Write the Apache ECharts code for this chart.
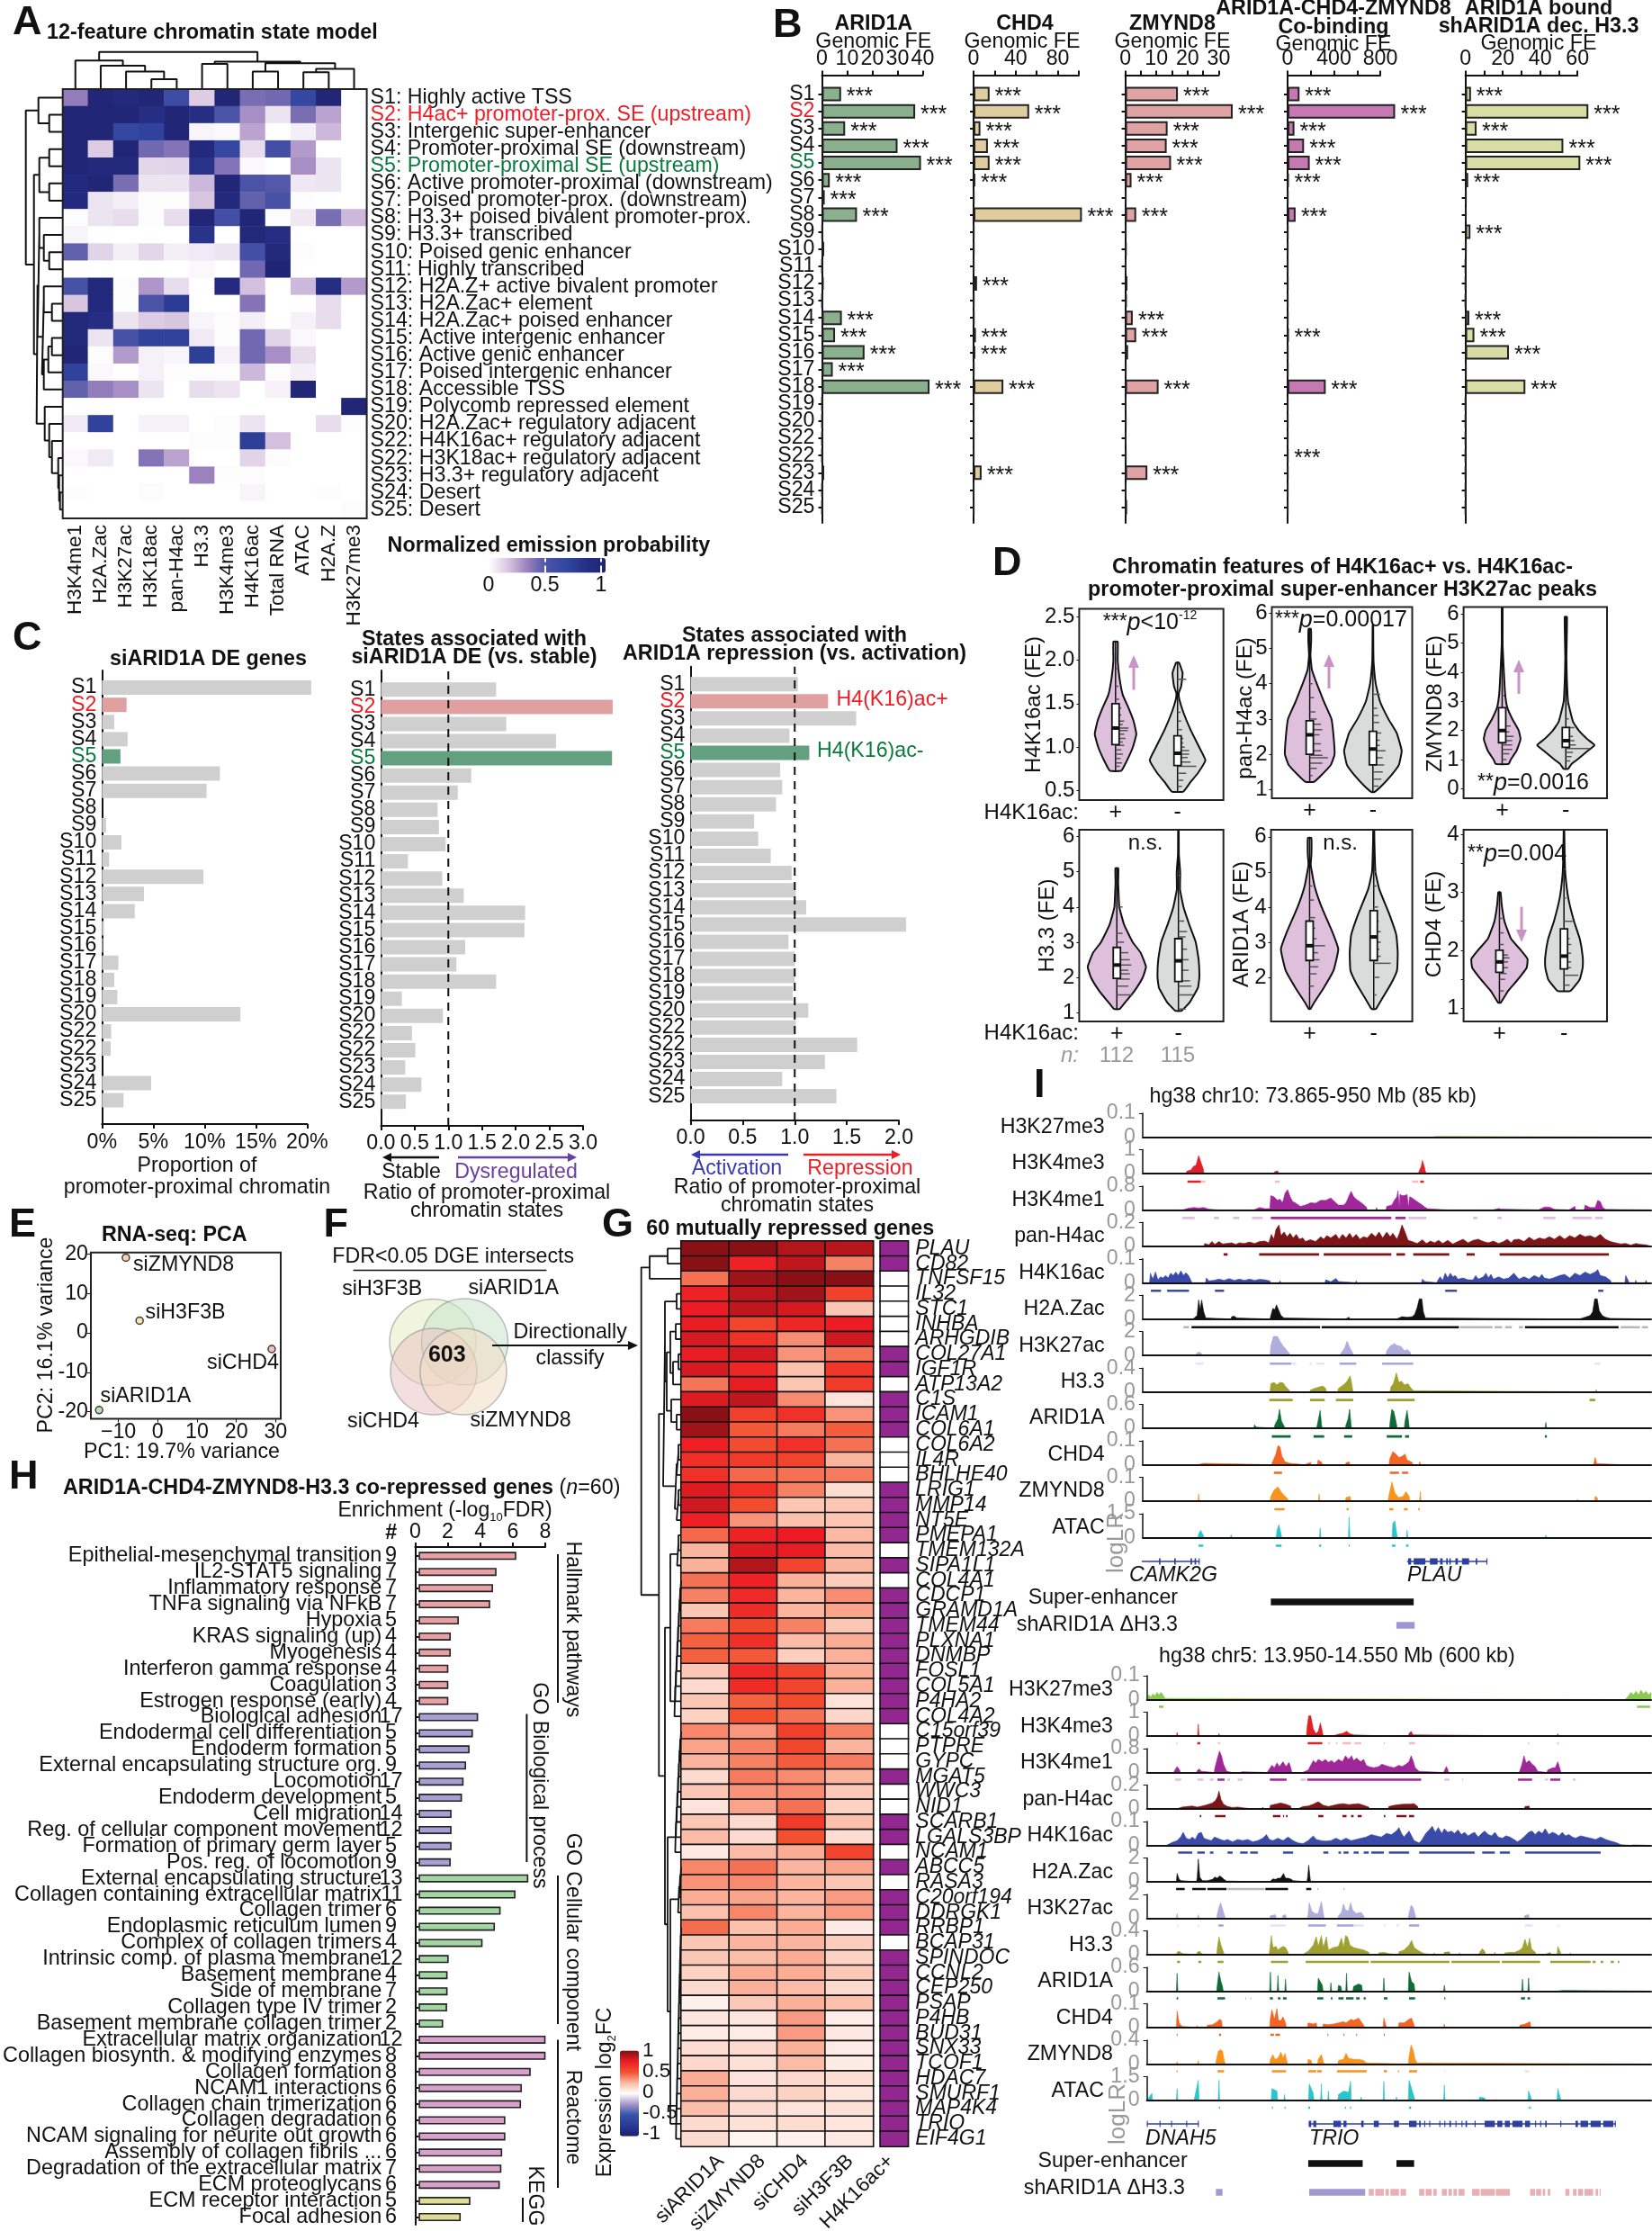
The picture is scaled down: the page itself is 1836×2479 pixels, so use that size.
<!DOCTYPE html>
<html><head><meta charset="utf-8">
<style>html,body{margin:0;background:#fff}#c{width:1836px;height:2479px}</style>
<script src="https://cdn.jsdelivr.net/npm/echarts@6/dist/echarts.min.js"></script>
</head><body><div id="c"></div>
<script>
/* ---------- DATA ---------- */
const stateIds=['S1','S2','S3','S4','S5','S6','S7','S8','S9','S10','S11','S12','S13','S14','S15','S16','S17','S18','S19','S20','S22','S22','S23','S24','S25'];
const stateNames=['S1: Highly active TSS','S2: H4ac+ promoter-prox. SE (upstream)','S3: Intergenic super-enhancer','S4: Promoter-proximal SE (downstream)','S5: Promoter-proximal SE (upstream)','S6: Active promoter-proximal (downstream)','S7: Poised promoter-prox. (downstream)','S8: H3.3+ poised bivalent promoter-prox.','S9: H3.3+ transcribed','S10: Poised genic enhancer','S11: Highly transcribed','S12: H2A.Z+ active bivalent promoter','S13: H2A.Zac+ element','S14: H2A.Zac+ poised enhancer','S15: Active intergenic enhancer','S16: Active genic enhancer','S17: Poised intergenic enhancer','S18: Accessible TSS','S19: Polycomb repressed element','S20: H2A.Zac+ regulatory adjacent','S22: H4K16ac+ regulatory adjacent','S22: H3K18ac+ regulatory adjacent','S23: H3.3+ regulatory adjacent','S24: Desert','S25: Desert'];
const marks=['H3K4me1','H2A.Zac','H3K27ac','H3K18ac','pan-H4ac','H3.3','H3K4me3','H4K16ac','Total RNA','ATAC','H2A.Z','H3K27me3'];
const emission=[
[.35,.95,.9,.95,.6,.15,.95,.4,.42,.65,.95,0],
[.95,.95,.95,.85,.95,.85,.5,.3,.08,.4,.25,0],
[.95,.95,.65,.7,.95,.03,.02,.25,0,.05,.2,0],
[.95,.15,.95,.42,.38,.9,.65,.1,.55,.27,0,0],
[.95,.9,.92,.12,.13,.8,.38,.02,0,.3,.08,0],
[.9,.95,.4,.08,.08,.2,.95,.5,.48,.07,.08,0],
[.9,.08,.05,.01,.01,.17,.9,.45,.52,.01,0,0],
[.01,.08,.1,.01,.1,.95,.55,.95,.01,.07,.4,.2],
[.03,0,0,0,0,.8,0,.92,.85,0,0,0],
[.45,.13,.05,.12,.05,.06,.08,.55,.92,.01,0,0],
[0,0,0,0,0,.02,0,.42,.97,0,0,0],
[.52,.92,.01,.28,.1,0,.88,.18,0,.2,.85,.27],
[.17,.9,.01,.5,.75,0,0,.38,0,0,.1,0],
[.92,.85,.08,.15,.17,.03,.01,.05,0,.04,.1,0],
[.92,.08,.52,.7,.7,.06,.01,.42,.13,.02,0,0],
[.95,.01,.27,.04,.03,.72,.04,.42,.3,.1,0,0],
[.7,.02,0,.04,.01,.01,.01,.2,.01,.05,0,0],
[.45,.35,.3,.08,0,.1,.08,0,.04,.95,0,0],
[0,0,0,0,0,0,0,0,0,0,0,.95],
[.06,.7,0,.04,.04,0,.01,.08,0,0,.1,.01],
[0,0,0,0,0,.01,.01,.72,.18,0,0,0],
[.02,.06,0,.38,.25,0,0,.13,.01,0,0,0],
[0,0,0,0,0,.33,.01,.01,0,0,0,0],
[.005,0,0,.01,0,0,0,.03,0,0,.005,0],
[0,0,0,0,0,0,0,0,0,0,0,.01]];

const feArid1a=[7.6,37,9.2,30,39.3,3.1,1.1,13.9,.2,.9,.1,.7,.1,7.9,5.2,16.9,4.3,42.7,.1,.1,.1,.1,.9,.1,.1];
const feChd4=[15.2,52.8,6.5,13.6,15.2,1.6,.3,102.9,.3,.3,.2,3.3,.3,.4,2.2,1.6,.3,28.3,.2,.2,.2,.2,7.6,.1,.2];
const feZmynd8=[16.9,34.5,13.6,13.3,14.7,2,.3,3.5,.3,.4,.2,.7,.5,2.4,3.5,.9,.3,10.7,.2,.3,.2,.3,7.1,.2,.6];
const feCobind=[103,928,59,142,191,8,3,69,3,2,2,3,2,3,8,3,3,329,2,2,2,3,3,2,2];
const feShArid=[3,65.8,6,52.4,61.5,1.5,.5,.4,2.7,.5,.1,.1,.1,2.1,4.8,23.3,.5,32.1,.1,.1,.1,.1,.1,.1,.1];
const sigArid1a=[0,1,2,3,4,5,6,7,13,14,15,16,17];
const sigChd4=[0,1,2,3,4,5,7,11,14,15,17,22];
const sigZmynd8=[0,1,2,3,4,5,7,13,14,17,22];
const sigCobind=[0,1,2,3,4,5,7,14,17,21];
const sigShArid=[0,1,2,3,4,5,8,13,14,15,17];

const propDE=[20.4,2.4,1.2,2.5,1.8,11.5,10.2,0,.4,1.9,.7,9.9,4.1,3.2,.2,.1,1.6,1.2,1.5,13.5,.9,.85,0,4.8,2.1];
const ratioDE=[1.71,3.44,1.86,2.6,3.43,1.34,1.14,.84,.86,.96,.4,.91,1.23,2.14,2.13,1.25,1.12,1.71,.31,.92,.46,.51,.36,.6,.37];
const ratioRep=[1.03,1.32,1.59,.95,1.14,.86,.88,.82,.61,.65,.77,.97,1.01,1.11,2.07,.94,1,1,.98,1.13,1.01,1.6,1.29,.88,1.4];

const violinPanels=[
{title:'H4K16ac (FE)',ticks:[.5,1,1.5,2,2.5],fmt:v=>v.toFixed(1),vio:[
 {cx:25.2,fill:'#dfc0dc',out:[[.73,4],[.85,8],[1,12],[1.15,14.4],[1.3,12.5],[1.45,9],[1.6,5],[1.8,2.7],[2,1.5],[2.21,1.5]],box:[1.03,1.22,1.5],rug:[[.78,3],[.82,4.5],[.87,3.5],[.92,5],[.97,4],[1.02,6],[1.06,5],[1.1,7],[1.15,6],[1.19,8.5],[1.22,9],[1.26,5],[1.3,6],[1.37,4],[1.45,4],[1.55,2.5],[1.7,2],[1.9,2],[2.1,1.5]]},
 {cx:68.2,fill:'#d9dcda',out:[[.49,4],[.6,9],[.7,14],[.85,19.3],[1,15],[1.2,9],[1.4,4],[1.55,1.2],[1.62,.8],[1.7,2.5],[1.85,3.5],[1.97,1]],box:[.79,.93,1.13],rug:[[.55,3],[.62,4],[.7,6],[.78,13],[.83,9],[.88,7],[.92,8],[.96,8],[1,5],[1.05,4],[1.1,4],[1.2,3],[1.3,2.5],[1.4,2],[1.78,6]]}]},
{title:'pan-H4ac (FE)',ticks:[1,2,3,4,5,6],fmt:v=>v,vio:[
 {cx:27,fill:'#dfc0dc',out:[[1.22,3],[1.4,8],[1.7,15],[2,17.7],[2.5,17],[3,15.5],[3.5,10],[4,5],[4.4,1.5],[4.8,.5],[5.2,1],[5.55,.8]],box:[2,2.55,2.95],rug:[[1.4,2],[1.6,5],[1.75,9],[1.9,13],[1.97,9],[2.1,8],[2.3,8],[2.55,7],[2.7,9],[2.85,8],[3,5],[3.2,4],[3.6,3],[4,2]]},
 {cx:72,fill:'#d9dcda',out:[[.93,1],[1.1,6],[1.4,13],[1.7,18.5],[2.1,20.5],[2.6,17],[3,11],[3.5,5],[4,2],[4.6,.5],[5,.3],[5.65,.2]],box:[1.7,2.15,2.65],rug:[[1.1,4],[1.3,6],[1.5,7],[1.7,8],[1.9,7],[2.1,9],[2.25,5],[2.4,5],[2.6,6],[2.9,4.5],[3.1,4],[3.3,3],[3.7,5]]}]},
{title:'ZMYND8 (FE)',ticks:[0,1,2,3,4,5,6],fmt:v=>v,vio:[
 {cx:26.9,fill:'#dfc0dc',out:[[.85,4.5],[1,6],[1.3,10],[1.7,12.8],[2,11.5],[2.4,7],[2.8,3.5],[3.3,2],[4.2,1],[5,.3],[6.3,.3]],box:[1.58,2,2.78],rug:[[1,3],[1.2,5],[1.35,7],[1.5,7],[1.65,7],[1.8,8],[1.95,5],[2.15,6],[2.4,3],[2.7,2],[3.2,1.5]]},
 {cx:71.3,fill:'#d9dcda',out:[[.68,1.5],[.85,4],[1,8],[1.25,14],[1.5,20],[1.7,15],[2,9],[2.3,5],[3,1.5],[3.8,.7],[4.5,.4],[5.9,.8]],box:[1.42,1.65,2.1],rug:[[.95,3],[1.1,4],[1.25,5],[1.38,17],[1.5,7],[1.65,6],[1.8,5],[2.1,6],[2.4,2],[2.9,1.5]]}]},
{title:'H3.3 (FE)',ticks:[1,2,3,4,5,6],fmt:v=>v,vio:[
 {cx:26.1,fill:'#dfc0dc',out:[[1.1,2],[1.3,6],[1.6,12],[2,18],[2.3,20.2],[2.7,16.5],[3,11],[3.5,5],[4,1.7],[4.4,1.2],[4.7,.9],[5.1,1]],box:[1.97,2.35,2.85],rug:[[1.5,11],[1.75,8],[1.95,9],[2.1,9],[2.2,8],[2.35,10],[2.5,9],[2.7,8],[3,5],[3.25,4],[4,4]]},
 {cx:68.8,fill:'#d9dcda',out:[[1.05,2.2],[1.3,8],[1.7,13.5],[2,14.5],[2.5,14],[3,12],[3.5,7.5],[4,3.5],[4.5,1.1],[5,1.2],[5.5,.3],[6.2,.2]],box:[1.88,2.47,3.1],rug:[[1.1,5],[1.5,10],[1.75,9],[1.9,8],[2.2,7],[2.5,7],[2.8,6],[3.15,5],[3.3,6],[3.6,4],[4.9,2]]}]},
{title:'ARID1A (FE)',ticks:[2,3,4,5,6],fmt:v=>v,vio:[
 {cx:27.3,fill:'#dfc0dc',out:[[1.1,.6],[1.3,3.5],[1.7,10],[2.2,17],[2.8,20.3],[3.3,16],[4,8.5],[4.6,3.5],[5.2,.8],[5.5,1.3],[5.97,1.2]],box:[2.48,2.9,3.6],rug:[[1.75,3],[2.1,5],[2.3,6],[2.5,7],[2.7,6],[2.9,11],[3.1,5],[3.4,4],[3.7,4],[4.2,3],[4.6,2]]},
 {cx:72.7,fill:'#d9dcda',out:[[1.1,1.5],[1.4,6],[1.8,12],[2.2,16.5],[2.7,17],[3.2,16],[3.8,11],[4.5,4],[5,1.2],[5.8,.5],[6.3,.3]],box:[2.48,3.15,3.9],rug:[[1.5,2],[2,4],[2.4,12],[2.6,5],[2.8,4],[3,5],[3.3,5],[3.6,3.5],[4,3],[4.6,2],[5,1.5]]}]},
{title:'CHD4 (FE)',ticks:[1,2,3,4],fmt:v=>v,minor:[1,1.5,2,2.5,3,3.5,4],vio:[
 {cx:25,fill:'#dfc0dc',out:[[1.1,1],[1.3,6],[1.5,13],[1.7,19],[1.85,19.6],[2,15],[2.2,8],[2.5,3.5],[2.8,1.5],[3,.8]],box:[1.62,1.8,2],rug:[[1.3,3],[1.5,4],[1.6,5],[1.7,6],[1.8,6],[1.87,7],[1.92,6],[2.1,3],[2.3,3],[2.55,2]]},
 {cx:70,fill:'#d9dcda',out:[[1.3,4.5],[1.5,11],[1.7,13],[1.9,13],[2.2,11],[2.5,7],[2.9,3],[3.3,1],[3.6,.5],[4.07,.2]],box:[1.68,1.9,2.37],rug:[[1.4,4],[1.57,10],[1.7,5],[1.8,5],[1.95,5],[2.1,5],[2.2,4],[2.5,6],[2.9,1.5],[3.4,1]]}]}
];

const pcaNames=['siZMYND8','siH3F3B','siCHD4','siARID1A'];
const pcaPoints=[[-8.1,19.1],[-4.6,3.1],[29,-4.1],[-14.9,-19.6]];
const vennSets=['siH3F3B','siARID1A','siCHD4','siZMYND8'];

const genes=['PLAU','CD82','TNFSF15','IL32','STC1','INHBA','ARHGDIB','COL27A1','IGF1R','ATP13A2','C1S','ICAM1','COL6A1','COL6A2','IL4R','BHLHE40','LRIG1','MMP14','NT5E','PMEPA1','TMEM132A','SIPA1L1','COL4A1','CDCP1','GRAMD1A','TMEM44','PLXNA1','DNMBP','FOSL1','COL5A1','P4HA2','COL4A2','C15orf39','PTPRE','GYPC','MGAT5','WWC3','NID1','SCARB1','LGALS3BP','NCAM1','ABCC5','RASA3','C20orf194','DDRGK1','RRBP1','BCAP31','SPINDOC','CCNL2','CEP250','PSAP','P4HB','BUD31','SNX33','TCOF1','HDAC7','SMURF1','MAP4K4','TRIO','EIF4G1'];
const knockdowns=['siARID1A','siZMYND8','siCHD4','siH3F3B'];
const geneFC=[[.97,.97,.88,.87],[.97,.72,.85,.38],[.42,.92,.97,.97],[.72,.85,.92,.57],[.75,.85,.8,.2],[.76,.55,.7,.75],[.8,.65,.35,.82],[.76,.8,.34,.42],[.8,.7,.22,.62],[.41,.76,.2,.6],[.78,.85,.36,.1],[.97,.58,.65,.34],[.92,.48,.4,.47],[.74,.52,.65,.42],[.66,.6,.56,.26],[.65,.44,.42,.4],[.78,.65,.38,.12],[.82,.52,.2,.2],[.73,.34,.22,.2],[.44,.72,.75,.25],[.26,.78,.76,.24],[.27,.88,.55,.26],[.42,.72,.27,.18],[.38,.68,.26,.35],[.2,.68,.26,.3],[.4,.54,.38,.2],[.46,.66,.24,.28],[.46,.48,.17,.27],[.2,.68,.55,.28],[.13,.68,.56,.27],[.2,.46,.52,.1],[.16,.5,.42,.14],[.37,.33,.58,.38],[.3,.38,.54,.26],[.26,.38,.47,.4],[.13,.4,.36,.26],[.2,.34,.36,.19],[.1,.3,.42,.16],[.2,.13,.6,.22],[.24,.13,.5,.12],[.08,.24,.28,.55],[.37,.42,.26,.3],[.34,.36,.26,.2],[.28,.3,.26,.32],[.22,.37,.26,.32],[.43,.22,.28,.07],[.2,.26,.26,.18],[.2,.23,.28,.16],[.16,.28,.28,.19],[.13,.27,.24,.13],[.05,.19,.27,.22],[.09,.09,.32,.06],[.07,.07,.32,.08],[.12,.13,.27,.07],[.14,.11,.24,.07],[.28,.1,.14,.12],[.27,.13,.16,.09],[.23,.13,.1,.11],[.13,.11,.12,.09],[.13,.04,.05,.08]];
const h4k16Flag=[1,1,0,0,0,0,0,1,1,0,1,1,1,0,0,0,1,1,1,1,0,1,0,1,1,1,1,1,1,1,1,1,0,0,0,1,0,0,1,1,0,1,0,1,1,1,0,1,1,1,1,1,1,1,1,1,1,1,1,1];

const terms=['Epithelial-mesenchymal transition','IL2-STAT5 signaling','Inflammatory response','TNFa signaling via NFkB','Hypoxia','KRAS signaling (up)','Myogenesis','Interferon gamma response','Coagulation','Estrogen response (early)','Biological adhesion','Endodermal cell differentiation','Endoderm formation','External encapsulating structure org.','Locomotion','Endoderm development','Cell migration','Reg. of cellular component movement','Formation of primary germ layer','Pos. reg. of locomotion','External encapsulating structure','Collagen containing extracellular matrix','Collagen trimer','Endoplasmic reticulum lumen','Complex of collagen trimers','Intrinsic comp. of plasma membrane','Basement membrane','Side of membrane','Collagen type IV trimer','Basement membrane collagen trimer','Extracellular matrix organization','Collagen biosynth. & modifying enzymes','Collagen formation','NCAM1 interactions','Collagen chain trimerization','Collagen degradation','NCAM signaling for neurite out growth','Assembly of collagen fibrils ...','Degradation of the extracellular matrix','ECM proteoglycans','ECM receptor interaction','Focal adhesion'];
const termCounts=[9,7,7,7,5,4,4,4,3,4,17,5,5,9,17,5,14,12,5,9,13,11,6,9,4,12,4,7,2,2,12,8,8,6,6,6,6,6,7,6,5,6];
const termFDR=[6.17,4.92,4.7,4.52,2.54,2.03,2.03,1.88,1.88,1.88,3.76,3.43,3.22,3,2.84,2.74,2.08,2.08,2.08,2.03,6.93,6.12,5.18,4.82,4.04,1.9,1.83,1.83,1.8,1.55,8.02,8.02,7.08,6.52,6.47,5.48,5.48,5.28,5.23,5.13,3.27,2.66];

const trackNames=['H3K27me3','H3K4me3','H3K4me1','pan-H4ac','H4K16ac','H2A.Zac','H3K27ac','H3.3','ARID1A','CHD4','ZMYND8','ATAC'];
const locusAMax=['0.1','1','0.8','0.2','0.1','2','2','0.4','0.6','0.1','0.1','1.5'];
const locusBMax=['0.1','1','0.8','0.2','0.1','2','2','0.4','0.6','0.1','0.4','1.5'];

const a_k27me3=[[57,.02],[57.8,.03]];
const a_me3=[[8.7,.1],[9.5,.15],[10,.3],[10.5,.35],[11,.75],[11.4,.5],[11.9,.2],[26,.08],[26.6,.1],[54.4,.12],[54.8,.3],[55,.55],[55.3,.35],[55.6,.1]];
const a_me1=[[8,.03],[9,.07],[10,.1],[11,.08],[12,.1],[13,.03],[15,.02],[20,.03],[22,.05],[23,.1],[24,.05],[25,.05],[25.2,.6],[25.8,.55],[26.5,.4],[27,.45],[27.5,.3],[28,.7],[28.5,.85],[29,.55],[29.5,.35],[30,.3],[31,.15],[32,.2],[33,.3],[34,.28],[35,.4],[36,.4],[37,.5],[38,.3],[38.5,.2],[39.5,.2],[40,.3],[40.5,.55],[41,.78],[41.5,.55],[42,.45],[43,.3],[44,.12],[46,.1],[48,.15],[49,.2],[49.5,.4],[50,.55],[50.2,.8],[50.5,.1],[50.6,.65],[51,.6],[51.5,.6],[52,.65],[52.3,.1],[52.5,.55],[53,.5],[54,.35],[55,.2],[55.5,.12],[56,.05],[60,.02],[69,.03],[70,.06],[70.5,.03],[78,.02],[79,.12],[80,.12],[81,.02],[84,.05],[85,.15],[87,.2],[88,.1],[89,.1],[89.5,.4],[90,.35],[90.5,.1],[91,.02]];
const a_pan=[[1,.02],[3,.05],[5,.03],[7,.06],[9,.05],[11,.06],[12.2,.12],[13,.06],[13.6,.2],[14.2,.08],[15,.2],[15.7,.1],[16.5,.12],[17.5,.15],[18.3,.08],[19,.15],[20,.12],[21,.18],[22,.12],[23,.2],[24,.22],[24.8,.15],[25.3,.5],[25.8,.3],[26.2,.7],[26.8,.9],[27.2,.45],[27.8,.6],[28.4,.4],[29,.55],[29.6,.35],[30.2,.5],[30.8,.3],[31.5,.35],[32,.2],[33,.28],[34,.2],[35,.4],[35.6,.3],[36.2,.45],[37,.35],[38,.5],[38.6,.3],[39.3,.5],[40,.35],[40.7,.55],[41.3,.35],[42,.5],[42.7,.3],[43.4,.4],[44.2,.35],[45,.55],[45.8,.4],[46.5,.6],[47.2,.35],[48,.6],[48.7,.4],[49.2,.55],[50,.3],[50.5,.55],[51,.9],[51.6,.6],[52.2,.25],[53,.2],[54,.12],[55,.28],[55.8,.12],[56.6,.22],[57.4,.15],[58.2,.25],[59,.12],[60,.25],[61,.1],[62,.2],[63,.3],[64,.15],[65,.25],[66,.3],[67,.2],[68,.15],[69,.22],[70,.12],[71,.2],[71.7,.3],[72.5,.15],[73,.28],[74,.3],[75,.2],[76,.38],[77,.25],[78,.35],[79,.3],[80,.4],[81,.3],[82,.45],[83,.3],[84,.45],[85,.35],[86,.5],[87,.4],[88,.45],[89,.35],[90,.5],[91,.3],[92,.2],[93,.15],[94,.1],[95,.12],[96,.05],[97,.12],[98,.08],[99,.06]];
const a_k16=[[1.5,.4],[2,.15],[2.5,.45],[3,.12],[3.5,.25],[4,.2],[4.5,.3],[5,.2],[5.5,.4],[6,.3],[6.5,.45],[7,.3],[7.5,.5],[8,.3],[8.5,.42],[9,.3],[9.5,.1],[12.5,.2],[13,.08],[14,.1],[15,.15],[16,.1],[17,.17],[18,.1],[19,.15],[20,.1],[21,.15],[22,.1],[23,.14],[24,.12],[25,.08],[27,.08],[29,.05],[31,.06],[34,.05],[36,.12],[37,.04],[38,.18],[38.5,.05],[42,.08],[44,.05],[47,.04],[52,.05],[55,.15],[55.5,.05],[58,.08],[58.5,.25],[59,.1],[59.5,.4],[60,.2],[60.5,.4],[61,.25],[61.5,.3],[62,.15],[63,.2],[64,.12],[65,.12],[65.5,.3],[66,.15],[67,.25],[67.5,.4],[68,.2],[68.5,.35],[69,.15],[70,.25],[71,.15],[72,.2],[73,.4],[74,.15],[75,.25],[76,.15],[77,.3],[78,.2],[78.5,.35],[79,.2],[80,.15],[81,.22],[82,.3],[83,.35],[84,.2],[85,.4],[86,.3],[87,.45],[88,.35],[89,.45],[89.5,.55],[90,.3],[91,.25],[92,.1],[95,.3],[95.5,.1],[97,.1],[99,.1]];
const a_h2az=[[10,.05],[10.7,.15],[11,.8],[11.3,.4],[11.6,.8],[12,.3],[12.4,.05],[17.5,.1],[18,.12],[18.5,.05],[25.2,.15],[25.6,.45],[26,.4],[26.3,.6],[26.7,.4],[27.2,.15],[27.8,.05],[40,.05],[40.6,.08],[46,.05],[48,.06],[50,.06],[51,.1],[52,.08],[53,.1],[53.5,.2],[54,.5],[54.4,.85],[54.9,.85],[55.2,.3],[55.6,.05],[86,.05],[87,.08],[88,.15],[88.5,.3],[88.9,.85],[89.4,.85],[89.8,.35],[90.4,.15],[91,.08],[92,.03]];
const a_k27ac=[[10.6,.08],[11,.15],[11.5,.1],[25.2,.4],[25.7,.8],[26.5,.8],[27,.6],[27.6,.4],[28.2,.25],[28.8,.1],[33,.05],[35,.05],[37,.03],[39,.1],[39.7,.3],[40.2,.6],[40.7,.35],[41.3,.1],[48,.2],[48.7,.4],[49.5,.5],[50,.42],[50.8,.38],[51.5,.2],[52,.25],[52.6,.15],[89,.05]];
const a_h33=[[22,.05],[25.2,.35],[25.8,.4],[26.4,.3],[27,.4],[27.6,.38],[28.2,.2],[28.8,.08],[33,.08],[33.8,.15],[34.6,.2],[35.4,.25],[36,.15],[38.5,.15],[39.5,.3],[40.2,.45],[40.8,.68],[41.2,.25],[48.8,.2],[49.3,.35],[49.9,.8],[50.4,.4],[50.9,.45],[51.5,.3],[52.2,.35],[52.8,.15],[53.3,.05],[89.2,.1]];
const a_arid=[[22,.15],[22.3,.05],[26,.15],[26.6,.4],[26.9,.8],[27.3,.3],[27.8,.1],[33,.05],[34.3,.1],[34.9,.75],[35.2,.1],[40,.15],[40.4,.4],[40.7,.8],[41,.1],[48.7,.35],[49,.8],[49.4,.7],[49.9,.2],[51.6,.3],[52,.75],[52.3,.3],[79.3,.25]];
const a_chd4=[[11,.06],[12,.06],[25.5,.1],[26.2,.45],[26.6,.8],[27,.75],[27.4,.35],[28,.12],[29,.06],[32,.05],[33,.1],[34.5,.2],[35.2,.1],[40,.08],[40.6,.12],[48.6,.25],[49.2,.55],[49.8,.45],[50.4,.3],[51,.35],[51.6,.45],[52,.2],[53,.1],[54.5,.12],[64,.03],[88.8,.1],[89,.3],[89.3,.05],[94,.05]];
const a_zm=[[11,.3],[25.2,.2],[25.8,.45],[26.6,.6],[27.2,.4],[27.8,.25],[28.5,.1],[34.7,.3],[37.5,.05],[40,.15],[40.8,.2],[48.4,.2],[49,.8],[49.6,.35],[50.3,.15],[51.2,.2],[51.8,.4],[52.4,.2],[54.6,.4],[85.5,.08],[89,.2],[89.4,.15]];
const a_atac=[[11,.15],[11.4,.3],[11.9,.1],[17.4,.12],[26.4,.3],[26.8,.55],[27.2,.15],[34.9,.4],[40.6,.85],[49.2,.6],[49.6,.7],[50,.1],[52,.3],[63,.03],[79.3,.1],[85.5,.04],[87,.06]];

const b_k27me3=[[0,.05],[.4,.2],[.8,.1],[1.2,.25],[1.6,.15],[2,.3],[2.4,.2],[2.8,.3],[3.2,.2],[3.6,.05],[95,.05],[95.5,.15],[96,.3],[96.5,.2],[97,.35],[97.5,.2],[98,.4],[98.5,.25],[99,.35],[99.5,.2],[100,.3]];
const b_me3=[[6,.15],[10.2,.5],[14.3,.1],[31.8,.4],[32.1,.85],[32.5,.85],[33,.3],[33.5,.1],[34,.2],[34.4,.55],[34.8,.2],[37,.03],[38,.08],[39,.12],[39.6,.2],[40.2,.1],[41,.05],[47,.03],[52,.1],[52.4,.2],[52.8,.05],[75.7,.05],[81.5,.1]];
const b_me1=[[5.5,.08],[6,.25],[6.5,.1],[10,.08],[10.4,.15],[10.8,.05],[13.5,.2],[14,.6],[14.4,.9],[14.8,.7],[15.2,.35],[15.8,.06],[17,.04],[18.5,.06],[19,.03],[24,.05],[24.8,.3],[25.3,.2],[25.8,.4],[26.3,.25],[27,.45],[27.6,.25],[28.2,.42],[28.6,.15],[31,.05],[32,.1],[32.5,.3],[33,.5],[33.5,.4],[34,.55],[34.8,.45],[35.4,.55],[36,.42],[36.6,.5],[37.2,.4],[38,.55],[38.8,.45],[39.4,.7],[40,.55],[40.6,.7],[41,.5],[41.6,.6],[42.4,.45],[43,.55],[43.5,.3],[44,.25],[45,.2],[46,.25],[46.6,.35],[47.2,.3],[48,.25],[49,.2],[50,.3],[50.6,.25],[51.4,.35],[52,.45],[52.4,.7],[52.8,.5],[53.2,.2],[54,.05],[59,.08],[59.4,.25],[59.7,.1],[74,.05],[74.4,.35],[74.8,.7],[75.2,.4],[75.8,.5],[76.4,.35],[77,.25],[77.5,.05],[79.5,.1],[80.5,.2],[81,.2],[81.5,.45],[82,.1]];
const b_pan=[[6,.05],[7,.08],[8,.1],[9,.12],[10,.08],[11,.12],[12,.18],[13,.25],[13.6,.35],[14,.5],[14.3,.75],[14.7,.4],[15.2,.2],[16,.1],[17,.06],[18,.08],[19,.05],[21,.05],[23,.08],[24.5,.15],[25.5,.2],[26.5,.25],[27.5,.2],[28.5,.12],[30,.05],[31,.1],[32,.12],[33,.2],[34,.3],[35,.15],[36,.1],[37,.15],[38,.2],[39,.22],[40,.18],[41,.2],[42,.22],[43,.15],[44,.08],[46,.05],[48,.1],[49,.15],[50,.18],[51,.2],[52,.2],[53,.22],[53.7,.1],[75,.1],[75.8,.12],[81.5,.05]];
const b_k16=[[4,.05],[5,.12],[6,.2],[6.7,.35],[7.2,.55],[7.8,.3],[8.5,.25],[9,.35],[9.6,.25],[10.2,.5],[10.8,.55],[11.3,.3],[12,.25],[12.8,.2],[13.4,.35],[14,.3],[14.6,.25],[15.3,.2],[16,.25],[17,.15],[18,.25],[19,.2],[20,.25],[21,.15],[22,.2],[23,.3],[23.7,.45],[24.3,.25],[25,.2],[26,.3],[27,.2],[28,.35],[29,.2],[30,.1],[31,.08],[32,.2],[33,.4],[33.6,.25],[34.5,.2],[35.5,.18],[36.5,.2],[37.5,.3],[38.5,.2],[39.5,.3],[40.5,.2],[41.5,.25],[42.5,.3],[43.5,.35],[44.5,.45],[45.5,.4],[46.5,.35],[47.5,.5],[48.5,.45],[49.5,.6],[50,.75],[50.5,.5],[51,.35],[52,.6],[52.5,.4],[53,.2],[54,.1],[54.6,.25],[55.3,.5],[56,.65],[56.6,.8],[57.2,.55],[57.8,.75],[58.5,.5],[59,.7],[59.7,.55],[60.4,.6],[61,.5],[61.7,.65],[62.4,.45],[63,.55],[63.7,.4],[64.5,.5],[65,.55],[65.7,.35],[66.4,.5],[67,.6],[67.7,.45],[68.4,.4],[69,.55],[69.7,.35],[70.5,.3],[71.2,.4],[72,.35],[72.8,.25],[73.5,.15],[74.2,.25],[75,.4],[75.7,.55],[76.4,.6],[77,.45],[77.7,.6],[78.4,.5],[79,.7],[79.7,.45],[80.4,.55],[81,.5],[81.7,.4],[82.4,.55],[83,.4],[83.7,.45],[84.4,.35],[85,.3],[86,.4],[87,.35],[88,.3],[89,.25],[90,.35],[91,.25],[92,.18],[93,.12],[94,.03],[96,.05],[96.5,.02]];
const b_h2az=[[6,.35],[6.4,.1],[6.8,.05],[10,.2],[10.2,.95],[10.5,.2],[11,.05],[12,.05],[13,.1],[13.5,.2],[14,.15],[14.4,.25],[14.8,.2],[15.3,.1],[15.8,.03],[24.5,.06],[25,.12],[25.5,.1],[26,.15],[26.5,.15],[26.8,.25],[27.1,.35],[27.5,.15],[28,.15],[28.5,.12],[29,.05],[31.9,.2],[32.1,.7],[32.4,.1],[34.5,.03]];
const b_k27ac=[[6,.2],[10.2,.15],[14,.2],[14.3,.45],[14.6,.65],[15,.4],[15.4,.1],[24.5,.1],[25.5,.15],[27,.12],[27.5,.15],[32,.2],[32.2,.65],[32.7,.3],[33.3,.2],[34,.2],[34.6,.7],[35,.2],[38,.1],[38.6,.25],[39,.6],[39.4,.35],[40,.3],[40.4,.65],[40.8,.35],[41.5,.2],[42.5,.25],[43,.1],[52,.2],[52.4,.55],[52.8,.45],[53.2,.15],[75,.12],[75.7,.15],[81.5,.05]];
const b_h33=[[6,.1],[6.4,.15],[7,.05],[10,.1],[10.4,.15],[11,.03],[14,.3],[14.3,.75],[14.7,.4],[15.2,.1],[24.4,.05],[24.7,.8],[25,.3],[25.6,.35],[26,.2],[26.6,.3],[27,.35],[27.5,.3],[28,.1],[31,.05],[32,.15],[33,.4],[33.6,.75],[34,.35],[34.6,.8],[35,.3],[35.6,.75],[36,.2],[37,.3],[38,.35],[38.6,.7],[39,.3],[39.4,.8],[39.8,.75],[40.3,.4],[41,.3],[42,.25],[43,.2],[44,.1],[46,.08],[47,.1],[48,.05],[50,.12],[51,.2],[52,.4],[52.5,.6],[53,.3],[54,.15],[55,.05],[57,.08],[59,.1],[60,.12],[62,.08],[64,.05],[66,.1],[66.5,.25],[67,.15],[69,.1],[71,.08],[72,.1],[73,.1],[74,.2],[74.5,.3],[75,.65],[75.5,.3],[75.9,.7],[76.3,.25],[77,.1],[79,.05],[80,.1],[81.5,.35],[82,.1],[84,.08],[86,.07],[88,.06],[91,.03],[93.5,.05]];
const b_arid=[[6,.75],[14,.3],[14.3,.8],[14.7,.4],[15,.2],[24.5,.8],[26,.65],[27.5,.5],[34,.55],[34.8,.25],[36.5,.35],[38,.25],[38.5,.2],[39.6,.75],[41,.2],[42,.3],[42.6,.25],[47,.55],[52,.8],[52.5,.4],[53,.3],[59,.25],[74.5,.5],[75.7,.55],[81.5,.05],[82.5,.03]];
const b_chd4=[[6,.7],[6.4,.2],[7,.05],[10,.08],[12,.1],[13,.12],[14,.25],[14.4,.35],[14.8,.3],[24.5,.4],[24.8,.75],[25.3,.35],[25.8,.8],[26.1,.3],[26.6,.3],[27,.45],[27.5,.2],[32,.2],[33,.15],[33.6,.2],[35,.15],[36,.12],[37,.15],[38,.2],[39,.25],[39.5,.2],[40.5,.35],[41,.3],[42,.4],[43,.1],[47,.4],[47.4,.1],[50,.2],[51,.2],[52,.35],[52.5,.4],[53,.1],[59,.15],[74,.1],[75,.15],[76,.25],[81,.03],[93,.02]];
const b_zm=[[6,.1],[10.2,.15],[13.8,.2],[14.2,.55],[14.6,.6],[15,.55],[15.4,.1],[24.5,.2],[25,.4],[25.4,.2],[26,.25],[26.6,.5],[27,.25],[27.4,.45],[27.8,.1],[32,.2],[32.6,.15],[34,.2],[34.6,.4],[35,.1],[38,.15],[39,.2],[39.5,.45],[40,.25],[41,.2],[42,.2],[43,.15],[43.5,.05],[52,.3],[52.4,.8],[52.8,.6],[53.2,.2],[53.6,.05]];
const b_atac=[[1,.3],[6,.5],[9.5,.15],[10.2,.85],[14.3,.85],[24.8,.5],[25.8,.4],[27.3,.25],[32.2,.7],[33,.3],[34.6,.7],[36,.4],[38,.25],[39,.4],[40,.35],[40.4,.8],[42.5,.15],[47,.8],[49.5,.15],[52,.85],[53,.15],[59,.65],[66,.15],[67,.1],[75.7,.4],[76.2,.1],[78.5,.05],[81.5,.5],[82,.1],[84,.05]];

/* peak calls: [start,end] in percent of the locus */
const a_calls=[
 [[],[]],
 [[[8.8,11.4],[54.6,55.3]],[[11.4,12.3],[26,26.9],[53,54.2]]],
 [[[25.2,48.9],[49.7,51.7]],[[7.8,10.2],[14,15],[17.8,19],[21.5,23.6],[52.3,55.8],[65,65.8],[69.8,70.6],[78.8,81.2],[84.5,88.3],[89,90.5]]],
 [[[15.9,16.7],[22.9,34.7],[35.6,48.9],[49.9,51.6],[53.2,60.3],[63.7,65.3],[70.2,91.7]],[]],
 [[[1.6,3.6],[4.8,9.1],[14.2,16],[59.5,61.8],[89.6,90.6]],[]],
 [[[9.6,34.9],[35.2,62.2],[75.2,93.6]],[[8,9.1],[62.4,68.8],[69.2,70.7],[71.3,72.6],[74,74.8],[94,97.8],[98.2,99.4]]],
 [[[25,29.2],[38.7,42],[47.1,53.2]],[[10.4,11.9],[29.3,30.2],[32.8,33.2],[34.2,35.7],[88.8,90]]],
 [[[24.9,29.5],[32.9,35.8],[38,41.4],[48.1,53.5],[87.9,89]],[]],
 [[[25.4,29.1],[33.6,35.7],[39.6,41.2],[48,51],[51.6,52.4],[79.1,79.5]],[]],
 [[[25.8,27.4],[48.6,50.4],[51,52.2]],[]],
 [[[25.9,27.9],[40.1,40.5],[48.5,49.3],[51.4,52.1],[54.2,54.5]],[]],
 [[[11,11.9],[26.2,27.3],[34.7,35.1],[40.5,40.7],[49,49.7],[51.8,52.3]],[]]];
const b_calls=[
 [[[2.4,3.3],[97.2,99.8]],[]],
 [[[10,10.6],[31.9,34.8]],[[5.9,6.1],[14.1,14.5],[36,36.3],[37.5,37.8],[38.8,40.5],[41.2,42.5],[47,47.2],[52,53.2],[75.6,75.8],[81.4,81.7]]],
 [[[14,15.4],[24.4,27.7],[31.8,54.4],[73.6,76.4],[80,82]],[[5.6,6.8],[10,11.2],[12.5,13.2],[16,16.5],[18,19],[30.5,31.5],[59,60],[62.5,62.7],[79,79.5],[84.5,85]]],
 [[[10.5,10.8],[13.5,15.6],[25,26.5],[27,27.2],[27.6,27.9],[34,35],[38.8,39.6],[40.5,41],[41.8,42.6],[47,47.3],[49.5,51.5],[52,53]],[]],
 [[[6.2,9],[10,11.5],[12.5,13.2],[16,17],[18.5,20],[20.5,22],[27,29],[35,36],[38,38.5],[39,40],[41,42],[43,44],[44.5,47],[48,52],[54,65],[66.5,69],[70,72],[75,90]],[]],
 [[[5.8,7.5],[9,11.7],[12,15.8],[23.5,28],[31.6,32.6]],[[16,23.3],[33.8,34],[39,39.2],[75.7,75.8],[81.5,81.6]]],
 [[[14.2,15.2],[32,35.5],[37.7,41],[52,54]],[[6,6.3],[10.1,10.4],[24.5,27.6],[41,43],[47,47.3],[49.5,50],[75,76.5],[81.4,81.7]]],
 [[[6,6.6],[10.2,10.8],[14,15.2],[24.6,28],[31.5,44],[44.4,60],[60.4,70],[70.4,78],[80,88],[88.4,89],[90,90.5],[92,92.6],[93.4,93.7]],[]],
 [[[5.9,6.2],[14,15.5],[24.4,25],[26,26.5],[27,27.7],[33.8,35],[36.5,36.8],[38,39],[39.5,41],[41.5,42.2],[43,43.4],[47,47.7],[52,53.2],[59,59.2],[74.2,75],[75.5,76]],[[19.5,19.7],[20.5,20.7]]],
 [[[5.9,6.1],[14.3,14.7],[24.5,25.2],[25.5,26.4],[35.8,36],[39,39.2],[41.5,41.7],[47,47.2]],[]],
 [[[5.9,6.1],[14,15.3],[24.8,27.6],[32,33.6],[33.8,34.7],[37.7,43.6],[47,47.6],[49.8,50],[52,53.6]],[[59,59.2],[75,75.8]]],
 [[[6,6.1],[10.2,10.3],[14.3,14.5],[24.8,25],[25.8,25.9],[27.3,27.5],[32,32.4],[34.6,34.7],[36,36.1],[38,38.1],[39.3,39.5],[40.3,40.5],[42.5,42.6],[47,47.1],[49.5,49.6],[52,52.4],[59,59.1],[66,66.1],[75.7,75.9],[76,76.2],[81.5,81.6]],[]]];
const a_signals=[a_k27me3,a_me3,a_me1,a_pan,a_k16,a_h2az,a_k27ac,a_h33,a_arid,a_chd4,a_zm,a_atac];
const b_signals=[b_k27me3,b_me3,b_me1,b_pan,b_k16,b_h2az,b_k27ac,b_h33,b_arid,b_chd4,b_zm,b_atac];

const geneA={intron:[[-.2,11.2],[52,67.8]],exon:[[3.2,3.5],[6.2,6.5],[9.4,9.7],[10.2,10.5],[11,11.2],[52.2,52.8],[53.3,55.6],[56.5,58],[58.5,59],[59.7,60],[60.3,60.6],[61.5,62],[62.8,64.2],[65.5,65.8],[67.6,67.8]]};
const geneB={intron:[[0,10.3],[32.1,93]],exon:[[0,.2],[2.5,2.7],[4.8,5],[7.8,8],[10.1,10.3],[32.1,32.6],[33,33.6],[37,38.5],[39,39.6],[42.5,43],[45,46],[49,50],[52,53.5],[54,54.3],[55,55.2],[56,56.2],[57,57.1],[58,58.2],[59,59.2],[60,60.3],[61.2,61.4],[62.4,62.6],[63.2,63.5],[65,65.2],[67,69],[69.5,70.5],[71,72],[72.5,74.5],[75,76],[77,77.2],[78,78.2],[79,79.3],[82,82.2],[85,85.5],[86,87.5],[88,90],[90.5,92.5],[92.8,93]]};
const seA=[[25.2,53.3]], dH33A=[[49.9,53.5]];
const seB=[[32,42.8],[49.5,53]], dH33Bdown=[[13.7,15],[32.2,43.3]];
const dH33Bpink=[[44,45],[45.3,47],[47.3,48],[48.3,50],[50.3,51.4],[54,55],[55.3,56.5],[56.8,57.5],[58.5,59.5],[59.8,60.5],[60.8,61.5],[61.8,63],[64.5,66],[66.2,69],[69.2,72],[76,77],[77.2,78.2],[78.5,79],[79.5,80],[83,83.8],[84.5,85.2],[85.5,86.5],[86.8,88.5],[89,89.5],[89.8,90],[93.2,93.3]];

/* ---------- HELPERS ---------- */
const F='"Liberation Sans",Arial,Helvetica,sans-serif', INK='#111', RED='#ee1c25', GRN='#0b7a3e';
const FS=23.2, BS=23.3;
const grids=[],xAxes=[],yAxes=[],series=[],gfx=[],vms=[];
const noSplit={splitLine:{show:false}};
function addGrid(box,xa,ya){grids.push({containLabel:false,...box});const i=grids.length-1;
 xAxes.push({gridIndex:i,...noSplit,...xa});yAxes.push({gridIndex:i,...noSplit,...ya});return i;}
const hide=(o={})=>({type:'value',show:false,...o});
function t(x,y,text,o={}){gfx.push({type:'text',x,y,rotation:o.r||0,z:100,silent:true,style:{text,fontSize:o.s||(o.b?BS:FS),fontFamily:F,fontWeight:o.b?'bold':'normal',fontStyle:o.i?'italic':'normal',fill:o.c||INK,align:o.a||'left',verticalAlign:'middle',rich:o.rich}});}
function gline(x1,y1,x2,y2,c=INK,w=2,dash){gfx.push({type:'line',z:90,silent:true,shape:{x1,y1,x2,y2},style:{stroke:c,lineWidth:w,lineDash:dash}});}
function frame(x,y,w,h){gfx.push({type:'rect',z:80,silent:true,shape:{x,y,width:w,height:h},style:{fill:'none',stroke:'#222',lineWidth:2}});}
function arrow(x1,y1,x2,y2,c=INK,w=2,L=10,W=5){const a=Math.atan2(y2-y1,x2-x1),ca=Math.cos(a),sa=Math.sin(a);
 gline(x1,y1,x2-ca*L*.8,y2-sa*L*.8,c,w);
 gfx.push({type:'polygon',z:91,silent:true,shape:{points:[[x2,y2],[x2-ca*L-sa*W,y2-sa*L+ca*W],[x2-ca*L+sa*W,y2-sa*L-ca*W]]},style:{fill:c}});}
function segData(segs,y=.5){const d=[];segs.forEach(([a,b])=>{d.push([a,y],[b,y],[b,'-']);});return d;}
function segRow(box,segs,color,width,op=1){if(!segs.length)return;
 const g=addGrid(box,hide({min:0,max:100}),hide({min:0,max:1}));
 series.push({type:'line',xAxisIndex:g,yAxisIndex:g,symbol:'none',silent:true,clip:false,data:segData(segs),lineStyle:{color,width,opacity:op,cap:'butt'}});}
function Tree(){const d=[];return{d,M(a,b,h){const A=Array.isArray(a)?a:[a,0],B=Array.isArray(b)?b:[b,0];
 d.push([A[0],A[1]],[A[0],h],[B[0],h],[B[0],B[1]],null);return[(A[0]+B[0])/2,h];}};}
function treeSeries(g,tree,swap,w=2){series.push({type:'line',xAxisIndex:g,yAxisIndex:g,symbol:'none',silent:true,clip:false,
 data:tree.d.map(p=>p?(swap?[p[1],p[0]]:p):['-','-']),lineStyle:{color:INK,width:w}});}

function barPanel(c){
 const n=c.cats.length;
 const g=addGrid({left:c.x0,width:c.x1-c.x0,top:c.s1-c.step/2,height:c.step*n},
  hide({min:0,max:c.xmax}),
  {type:'category',inverse:true,data:c.cats,axisLine:{show:false},
   axisTick:{show:!!c.rowTick,alignWithLabel:true,length:4,lineStyle:{color:INK,width:2}},
   axisLabel:c.labels?{show:true,interval:0,fontSize:c.lf||FS,fontFamily:F,margin:c.lm||6,color:(v,i)=>c.lc?c.lc(i):INK}:{show:false}});
 series.push({type:'bar',xAxisIndex:g,yAxisIndex:g,barWidth:c.barH,clip:false,silent:true,
  data:c.vals.map((v,i)=>({value:v,itemStyle:{color:c.color(i),borderColor:c.border?'#222':'transparent',borderWidth:c.border||0},
   label:(c.sig&&c.sig.includes(i))?{show:true,position:'right',distance:6,offset:[0,4],formatter:'***',fontSize:25,fontFamily:F,color:INK}:{show:false}}))});
 const a=addGrid({left:c.x0,width:c.x1-c.x0,top:c.top,height:c.bottom-c.top},
  {type:'value',min:0,max:c.xmax,position:c.pos,
   axisLine:{show:true,onZero:false,lineStyle:{color:INK,width:2}},
   axisTick:{show:true,customValues:c.ticks,length:5,lineStyle:{color:INK,width:2}},
   axisLabel:{customValues:c.labs,formatter:c.fmt,fontSize:FS,fontFamily:F,color:INK,margin:c.am===undefined?6:c.am}},
  {type:'value',min:0,max:1,axisLine:{show:true,onZero:false,lineStyle:{color:INK,width:2}},axisTick:{show:false},axisLabel:{show:false}});
 if(c.dash)series.push({type:'line',xAxisIndex:a,yAxisIndex:a,symbol:'none',silent:true,data:[[c.dash,0],[c.dash,1]],lineStyle:{color:INK,width:2,type:[9,7]}});
 return g;
}

/* ---------- PANEL A ---------- */
t(14,26,'A',{s:45,b:1});
t(52,37,'12-feature chromatin state model',{});
gfx[gfx.length-1].style.fontWeight='bold';gfx[gfx.length-1].style.fontSize=23.4;
const gA=addGrid({left:69.7,top:98.9,width:337.9,height:477},
 {type:'category',data:marks,position:'bottom',axisLine:{show:false},axisTick:{show:false},axisLabel:{rotate:90,interval:0,fontSize:22.5,fontFamily:F,color:INK,margin:7}},
 {type:'category',data:stateNames,inverse:true,position:'right',axisLine:{show:false},axisTick:{show:false},
  axisLabel:{interval:0,fontSize:FS,fontFamily:F,margin:4,color:(v,i)=>i===1?RED:i===4?GRN:INK}});
const emissionCells=[];emission.forEach((r,i)=>r.forEach((v,j)=>emissionCells.push([j,i,v])));
series.push({type:'heatmap',xAxisIndex:gA,yAxisIndex:gA,silent:true,data:emissionCells,progressive:0});
vms.push({type:'continuous',seriesIndex:series.length-1,min:0,max:1,show:true,orient:'horizontal',left:543,top:620,itemWidth:16.6,itemHeight:130,padding:0,text:null,calculable:false,realtime:false,
 inRange:{color:['#ffffff','#d9c6e1','#9a80bd','#4a53a5','#3247a0','#262f85','#1f2270']}});
frame(69.7,98.9,337.9,477);
{const T=Tree(),M=T.M;
 const a=M(3,4,10.8),b=M(2,a,19.5),c=M(1,b,26),d=M(0,c,31.7);
 const e=M(7,8,19.5),f=M(9,10,18.6),h=M(f,11,22.5),k=M(e,h,28.6),l=M(5,6,28),m=M(l,k,30.4);M(d,m,41.2);
 const g=addGrid({left:69.7,top:57.7,width:337.9,height:41.2},hide({min:-.5,max:11.5}),hide({min:0,max:41.2}));treeSeries(g,T,false);}
{const T=Tree(),M=T.M;
 const n1=M(1,2,15),n2=M(0,n1,27),n3=M(3,4,15),n4=M(5,6,15),n5=M(n3,n4,26),n6=M(9,10,15),n7=M(8,n6,21),n8=M(7,n7,26),
 n9=M(12,13,12),n10=M(11,n9,21),n11=M(14,15,12),n12=M(n11,16,16),n13=M(n12,17,21),n14=M(n10,n13,23),n15=M(n8,n14,28),
 n16=M(23,24,3),n17=M(22,n16,4),n18=M(21,n17,5),n19=M(20,n18,12),n20=M(19,n19,15),n21=M(18,n20,20),n22=M(n15,n21,29),n23=M(n5,n22,32);M(n2,n23,41);
 const g=addGrid({left:28.5,top:98.9,width:41.2,height:477},hide({min:0,max:41.2,inverse:true}),hide({min:-.5,max:24.5,inverse:true}));treeSeries(g,T,true);}
t(430.6,607,'Normalized emission probability',{b:1});
addGrid({left:543,top:620,width:130,height:16.6},
 {type:'value',min:0,max:1.04,position:'bottom',z:10,axisLine:{show:false},axisTick:{show:true,inside:true,customValues:[.5,1],length:16,lineStyle:{color:'#fff',width:2,type:'dashed'}},axisLabel:{customValues:[0,.5,1],fontSize:FS,fontFamily:F,color:INK,margin:3}},
 hide({min:0,max:1}));

/* ---------- PANEL B ---------- */
t(859,29,'B',{s:45,b:1});
const bSpec=[
 {x0:913.5,x1:1025.5,xmax:40,vals:feArid1a,sig:sigArid1a,col:'#8ab08e',ticks:[0,10,20,30,40],labs:[0,10,20,30,40],labels:true},
 {x0:1082,x1:1199,xmax:100,vals:feChd4,sig:sigChd4,col:'#dfcda0',ticks:[0,20,40,60,80,100],labs:[0,40,80]},
 {x0:1250.6,x1:1354.4,xmax:30,vals:feZmynd8,sig:sigZmynd8,col:'#e0a3a3',ticks:[0,5,10,15,20,25,30],labs:[0,10,20,30]},
 {x0:1431,x1:1534,xmax:800,vals:feCobind,sig:sigCobind,col:'#c678b2',ticks:[0,200,400,600,800],labs:[0,400,800]},
 {x0:1628.6,x1:1753.2,xmax:60,vals:feShArid,sig:sigShArid,col:'#d8dda6',ticks:[0,10,20,30,40,50,60],labs:[0,20,40,60]}];
bSpec.forEach(s=>barPanel({...s,cats:stateIds,color:()=>s.col,s1:104.5,step:19.13,top:83.4,bottom:581,pos:'top',barH:16,border:2,rowTick:true,lm:8,lc:i=>i===1?RED:i===4?GRN:INK,fmt:v=>v}));
[['ARID1A',970.8],['CHD4',1139],['ZMYND8',1303]].forEach(([n,x])=>t(x,27,n,{b:1,a:'center'}));
[970.8,1136,1303].forEach(x=>t(x,47,'Genomic FE',{a:'center'}));
t(1482,10,'ARID1A-CHD4-ZMYND8',{b:1,a:'center'});t(1482,30.6,'Co-binding',{b:1,a:'center'});t(1482,50,'Genomic FE',{a:'center'});
t(1710,10,'ARID1A bound',{b:1,a:'center'});t(1710,29.5,'shARID1A dec. H3.3',{b:1,a:'center'});t(1710,49,'Genomic FE',{a:'center'});

/* ---------- PANEL C ---------- */
t(14,710,'C',{s:45,b:1});
const cColor=i=>i===1?'#e0a0a0':i===4?'#62a07f':'#cfcfcf';
const cLab=i=>i===1?RED:i===4?GRN:INK;
barPanel({cats:stateIds,vals:propDE,color:cColor,labels:true,lc:cLab,x0:113.3,x1:341.3,xmax:20,s1:764.1,step:19.1,top:745,bottom:1249,pos:'bottom',barH:16,ticks:[0,5,10,15,20],labs:[0,5,10,15,20],fmt:v=>v+'%',am:9});
barPanel({cats:stateIds,vals:ratioDE,color:cColor,labels:true,lc:cLab,x0:423.4,x1:648,xmax:3,s1:766.3,step:19.08,top:745,bottom:1251,pos:'bottom',barH:16,ticks:[0,.5,1,1.5,2,2.5,3],labs:[0,.5,1,1.5,2,2.5,3],fmt:v=>(+v).toFixed(1),am:8,dash:1});
barPanel({cats:stateIds,vals:ratioRep,color:cColor,labels:true,lc:cLab,x0:767.5,x1:999,xmax:2,s1:760.2,step:19.08,top:740.7,bottom:1245,pos:'bottom',barH:16,ticks:[0,.5,1,1.5,2],labs:[0,.5,1,1.5,2],fmt:v=>(+v).toFixed(1),am:8,dash:1});
t(231.5,733,'siARID1A DE genes',{b:1,a:'center'});
t(219,1296,'Proportion of',{a:'center'});t(219,1320,'promoter-proximal chromatin',{a:'center'});
t(527,711,'States associated with',{b:1,a:'center'});t(527,731,'siARID1A DE (vs. stable)',{b:1,a:'center'});
t(883,707,'States associated with',{b:1,a:'center'});t(883,727,'ARID1A repression (vs. activation)',{b:1,a:'center'});
arrow(488,1286,425,1286,INK,2.5,10,5);arrow(509,1286,641,1286,'#6a3fa0',2.5,10,5);
t(457,1303,'Stable',{a:'center'});t(573.5,1303,'Dysregulated',{a:'center',c:'#6a3fa0'});
t(541,1326,'Ratio of promoter-proximal',{a:'center'});t(541,1346,'chromatin states',{a:'center'});
arrow(876,1283,768,1283,'#3a3ab0',2.5,10,5);arrow(893,1283,1001,1283,RED,2.5,10,5);
t(819,1299,'Activation',{a:'center',c:'#3a3ab0'});t(956,1299,'Repression',{a:'center',c:RED});
t(886,1320,'Ratio of promoter-proximal',{a:'center'});t(886,1340,'chromatin states',{a:'center'});
t(929.5,777.6,'H4(K16)ac+',{c:RED});t(908,835,'H4(K16)ac-',{c:GRN});

/* ---------- PANEL D ---------- */
t(1103,627,'D',{s:45,b:1});
t(1492,631,'Chromatin features of H4K16ac+ vs. H4K16ac-',{b:1,a:'center'});
t(1492,655.5,'promoter-proximal super-enhancer H3K27ac peaks',{b:1,a:'center'});
const vBoxes=[
 {l:1199.4,w:160.3,t:676.5,h:212.5,min:.393,max:2.588,tx:1149.5,ty:783},
 {l:1413.5,w:156,t:674.6,h:212.4,min:.756,max:6.166,tx:1384,ty:787},
 {l:1626.6,w:159.4,t:674.6,h:212.4,min:-.33,max:6.24,tx:1595,ty:782},
 {l:1199.4,w:160.3,t:922,h:213,min:.745,max:6.196,tx:1164,ty:1028.6},
 {l:1412.6,w:157,t:922,h:213,min:.745,max:6.2,tx:1380,ty:1027},
 {l:1626.6,w:159.4,t:922,h:213,min:.774,max:4.077,tx:1594,ty:1027}];
function drawViolin(g,v){
 series.push({type:'custom',coordinateSystem:'cartesian2d',xAxisIndex:g,yAxisIndex:g,silent:true,clip:true,data:[[v.cx,v.box[1]]],encode:{x:0,y:1},
  renderItem:(p,api)=>{
   const L=v.out.map(([y,w])=>api.coord([v.cx-w,y])),R=v.out.map(([y,w])=>api.coord([v.cx+w,y])).reverse();
   const kids=[{type:'polygon',shape:{points:L.concat(R),smooth:.12},style:{fill:v.fill,stroke:INK,lineWidth:2}}];
   const c0=api.coord([v.cx,v.out[0][0]]),c1=api.coord([v.cx,v.out[v.out.length-1][0]]);
   kids.push({type:'line',shape:{x1:c0[0],y1:c0[1],x2:c1[0],y2:c1[1]},style:{stroke:INK,lineWidth:1.5}});
   v.rug.forEach(([y,l])=>{const a=api.coord([v.cx,y]),b=api.coord([v.cx+l,y]);kids.push({type:'line',shape:{x1:a[0],y1:a[1],x2:b[0],y2:b[1]},style:{stroke:'#555',lineWidth:1.5}});});
   const q1=api.coord([v.cx,v.box[0]]),q3=api.coord([v.cx,v.box[2]]),m=api.coord([v.cx,v.box[1]]);
   kids.push({type:'rect',shape:{x:q3[0]-4,y:q3[1],width:8,height:q1[1]-q3[1]},style:{fill:'#fff',stroke:INK,lineWidth:1.8}});
   kids.push({type:'rect',shape:{x:m[0]-4,y:m[1]-2,width:8,height:4},style:{fill:INK}});
   return {type:'group',children:kids};}});
}
violinPanels.forEach((p,i)=>{const b=vBoxes[i];
 const g=addGrid({left:b.l,top:b.t,width:b.w,height:b.h},
  {type:'value',min:0,max:100,axisLine:{show:false,onZero:false},axisTick:{show:false},
   axisLabel:{customValues:p.vio.map(v=>v.cx),formatter:v=>(+v===p.vio[0].cx?'+':'-'),fontSize:25,fontFamily:F,color:INK,margin:2}},
  {type:'value',min:b.min,max:b.max,axisLine:{show:false,onZero:false},axisTick:{show:true,customValues:p.minor||p.ticks,length:3,lineStyle:{color:INK}},
   axisLabel:{customValues:p.ticks,formatter:v=>p.fmt(+v),fontSize:24,fontFamily:F,color:INK,margin:5}});
 p.vio.forEach(v=>drawViolin(g,v));
 frame(b.l,b.t,b.w,b.h);
 t(b.tx,b.ty,p.title,{a:'center',r:Math.PI/2,s:24});
});
const pRich={a:{fontSize:23,fontFamily:F,fill:INK},p:{fontSize:27,fontFamily:F,fontStyle:'italic',fill:INK},n:{fontSize:25,fontFamily:F,fill:INK},u:{fontSize:14,fontFamily:F,fill:INK,verticalAlign:'top',lineHeight:30}};
t(1278,692,'{a|***}{p|p}{n|<10}{u|-12}',{a:'center',rich:pRich});
t(1417,689,'{a|***}{p|p}{n|=0.00017}',{rich:pRich});
t(1642,870,'{a|**}{p|p}{n|=0.0016}',{rich:pRich});
t(1273,937,'n.s.',{a:'center',s:24});t(1489.6,937,'n.s.',{a:'center',s:24});
t(1631,949,'{a|**}{p|p}{n|=0.004}',{rich:pRich});
const aC='#c993c5';
arrow(1260,766.5,1260,728,aC,3,14,6);arrow(1477,765,1477,727,aC,3,14,6);arrow(1688,771,1688,733,aC,3,14,6);arrow(1691,1007.6,1691,1047,aC,3,14,6);
t(1199,903,'H4K16ac:',{a:'right',s:24});t(1199,1148,'H4K16ac:',{a:'right',s:24});
t(1199,1173,'n:',{a:'right',i:1,c:'#999',s:24});t(1241,1173,'112',{a:'center',c:'#999',s:24});t(1309,1173,'115',{a:'center',c:'#999',s:24});

/* ---------- PANEL E ---------- */
t(10,1362,'E',{s:45,b:1});
t(193.8,1372.5,'RNA-seq: PCA',{b:1,a:'center'});
const gE=addGrid({left:101,top:1391.7,width:211,height:184.8},
 {type:'value',min:-17,max:31.3,axisLine:{show:false,onZero:false},axisTick:{show:true,customValues:[-10,0,10,20,30],length:4,lineStyle:{color:INK}},axisLabel:{customValues:[-10,0,10,20,30],formatter:v=>String(v).replace('-','\u2212'),fontSize:FS,fontFamily:F,color:INK,margin:4}},
 {type:'value',min:-21.8,max:20.4,axisLine:{show:false,onZero:false},axisTick:{show:true,customValues:[-20,-10,0,10,20],length:4,lineStyle:{color:INK}},axisLabel:{customValues:[-20,-10,0,10,20],fontSize:FS,fontFamily:F,color:INK,margin:3}});
series.push({type:'scatter',xAxisIndex:gE,yAxisIndex:gE,silent:true,symbolSize:8,data:pcaPoints.map((p,i)=>({value:p,itemStyle:{color:['#f0c9a0','#f0e0a0','#e8b0b0','#b0d8a0'][i],borderColor:INK,borderWidth:1.5}}))});
frame(101,1391.7,211,184.8);
t(148,1406,pcaNames[0]);t(161.6,1458.6,pcaNames[1]);t(310,1515,pcaNames[2],{a:'right'});t(111.6,1552,pcaNames[3]);
t(202,1613.6,'PC1: 19.7% variance',{a:'center'});t(51.4,1483.5,'PC2: 16.1% variance',{a:'center',r:Math.PI/2});

/* ---------- PANEL F ---------- */
t(359.5,1362,'F',{s:45,b:1});
t(503.7,1396.6,'FDR<0.05 DGE intersects',{a:'center'});
gline(392.6,1411.6,607.4,1411.6,INK,1.5);
{const g=addGrid({left:400,top:1420,width:200,height:200},hide({min:0,max:200}),hide({min:0,max:200,inverse:true}));
 const centers=[[81,71.5],[116.5,71],[82,104],[115,104]],fills=['#e6ecc2','#c9e4cc','#eac5c5','#f2dcc4'];
 series.push({type:'scatter',xAxisIndex:g,yAxisIndex:g,silent:true,symbolSize:96,data:centers.map((c,i)=>({value:c,name:vennSets[i],itemStyle:{color:fills[i],opacity:.55,borderColor:'#888',borderWidth:1.5}}))});}
t(424.7,1433,vennSets[0],{a:'center'});t(570.7,1432,vennSets[1],{a:'center'});t(426,1580,vennSets[2],{a:'center'});t(578.5,1579,vennSets[3],{a:'center'});
t(496.8,1506.5,'603',{a:'center',b:1,s:25});
arrow(547,1495,709,1495,INK,2,11,5);
t(633.6,1481,'Directionally',{a:'center'});t(633.6,1509.5,'classify',{a:'center'});

/* ---------- PANEL G ---------- */
t(669,1362,'G',{s:45,b:1});
t(718.3,1365.4,'60 mutually repressed genes',{b:1});
const gG=addGrid({left:757,top:1379,width:213.5,height:1006},
 {type:'category',data:knockdowns,axisLine:{show:false},axisTick:{show:false},axisLabel:{show:false}},
 {type:'category',data:genes,inverse:true,axisLine:{show:false},axisTick:{show:false},axisLabel:{show:false}});
const fcCells=[];geneFC.forEach((r,i)=>r.forEach((v,j)=>fcCells.push([j,i,v])));
series.push({type:'heatmap',xAxisIndex:gG,yAxisIndex:gG,silent:true,data:fcCells,progressive:0,itemStyle:{borderColor:INK,borderWidth:1.6}});
vms.push({type:'continuous',seriesIndex:series.length-1,min:-1,max:1,show:true,orient:'vertical',left:689,top:2278.5,itemWidth:21,itemHeight:95.3,padding:0,text:null,calculable:false,realtime:false,
 inRange:{color:['#1b1f6e','#2a3a96','#3553a8','#a797c9','#ffffff','#fbb8a2','#f2502f','#ed1c24','#7b1013']}});
const gH4=addGrid({left:978.3,top:1379,width:31,height:1006},
 {type:'category',data:['H4K16ac+'],axisLine:{show:false},axisTick:{show:false},axisLabel:{show:false}},
 {type:'category',data:genes,inverse:true,position:'right',axisLine:{show:false},axisTick:{show:false},axisLabel:{interval:0,fontSize:23,fontStyle:'italic',fontFamily:F,color:INK,margin:8}});
series.push({type:'heatmap',xAxisIndex:gH4,yAxisIndex:gH4,silent:true,data:h4k16Flag.map((v,i)=>[0,i,v]),progressive:0,itemStyle:{borderColor:INK,borderWidth:1.6}});
vms.push({type:'continuous',seriesIndex:series.length-1,min:0,max:1,show:false,inRange:{color:['#ffffff','#92278f']}});
[['siARID1A',801],['siZMYND8',847],['siCHD4',895],['siH3F3B',945],['H4K16ac+',990]].forEach(([n,x])=>t(x,2398,n,{a:'right',r:Math.PI/4,s:22.5}));
{const T=Tree(),M=T.M;
 const chain=(a,b,h0,dh)=>{let n=[a,0];for(let r=a+1;r<=b;r++){n=M(n,r,h0);h0+=dh;}return n;};
 const top=M(M(0,1,15),2,35);
 const A=M(3,4,5),B=M(5,6,6),C=M(M(7,8,3),9,9),D=M(B,C,12),G=M(10,M(11,12,5),11),rest=M(D,G,16),up=M(A,rest,18);
 const J=M(M(13,14,3),15,5),K=M(M(16,17,3),18,5),MM=M(J,K,7),N=M(up,MM,20);
 const Q=chain(19,21,3,1.5),R=chain(22,31,1,.8),S=M(Q,R,12);
 const TT=chain(32,40,1,.8),U=chain(41,44,1,1.2),V=chain(45,59,.5,.4),W=M(U,V,12),X=M(TT,W,15),Y=M(S,X,18);
 const Z=M(N,Y,24.7);M(top,Z,44.3);
 const g=addGrid({left:712.7,top:1379,width:44.3,height:1006},hide({min:0,max:44.3,inverse:true}),hide({min:-.5,max:59.5,inverse:true}));treeSeries(g,T,true,1.8);}
addGrid({left:689,top:2278.5,width:21,height:95.3},hide({min:0,max:1}),
 {type:'value',min:-1.065,max:1,position:'right',z:10,axisLine:{show:false},axisTick:{show:true,inside:true,customValues:[-1,-.5,.5,1],length:21,lineStyle:{color:'#fff',width:2,type:'dashed'}},axisLabel:{customValues:[-1,-.5,0,.5,1],fontSize:22.5,fontFamily:F,color:INK,margin:4}});
t(673,2325,'{a|Expression log}{s|2}{a|FC}',{a:'center',r:Math.PI/2,rich:{a:{fontSize:23,fontFamily:F,fill:INK},s:{fontSize:13,fontFamily:F,fill:INK,verticalAlign:'bottom',lineHeight:28}}});

/* ---------- PANEL H ---------- */
t(10,1642,'H',{s:45,b:1});
t(70,1653.8,'{b|ARID1A-CHD4-ZMYND8-H3.3 co-repressed genes} {a|(}{i|n}{a|=60)}',{rich:{b:{fontSize:23.3,fontWeight:'bold',fontFamily:F,fill:INK},a:{fontSize:23.3,fontFamily:F,fill:INK},i:{fontSize:23.3,fontStyle:'italic',fontFamily:F,fill:INK}}});
t(494.5,1678.7,'{a|Enrichment (-log}{s|10}{a|FDR)}',{a:'center',rich:{a:{fontSize:23,fontFamily:F,fill:INK},s:{fontSize:13,fontFamily:F,fill:INK,verticalAlign:'bottom',lineHeight:28}}});
t(434.8,1703.6,'#',{a:'center',b:1});
const hCols=['#e8a0a4','#a79fd6','#a3d6a3','#d9a0cb','#dcdc96'];
barPanel({cats:terms,vals:termFDR,color:i=>hCols[i<10?0:i<20?1:i<30?2:i<40?3:4],labels:true,lf:23.4,lm:41,x0:461.4,x1:606,xmax:8,s1:1728.8,step:17.92,top:1718.9,bottom:2472,pos:'top',barH:9,border:1.6,rowTick:true,ticks:[0,2,4,6,8],labs:[0,2,4,6,8],fmt:v=>v,am:5});
addGrid({left:461.4,top:1728.8-8.96,width:144.6,height:17.92*42},hide({min:0,max:1}),
 {type:'category',inverse:true,data:termCounts.map(String),axisLine:{show:false},axisTick:{show:false},axisLabel:{interval:0,fontSize:23.4,fontFamily:F,color:INK,margin:13.8,formatter:(v,i)=>{const s=String(termCounts[i]);return s.length<2?s+'\u00a0':s;}}});
gline(620,1727,620,1892);gline(585.4,1904.5,585.4,2069);gline(620,2084,620,2249);gline(620,2266.6,620,2431);gline(581,2442,581,2469);
const br=-Math.PI/2;
t(636,1810.5,'Hallmark pathways',{a:'center',r:br});t(599,1984,'GO Biological process',{a:'center',r:br});
t(636,2158,'GO Cellular component',{a:'center',r:br});t(636,2352.5,'Reactome',{a:'center',r:br});t(594.6,2440,'KEGG',{a:'center',r:br});

/* ---------- PANEL I ---------- */
t(1149,1207,'I',{s:45,b:1});
const trackCols=['#8cc850','#e01f26','#a0279a','#7d1518','#3a4aa8','#111111','#a6a4d8','#a0a030','#0e6b36','#f26522','#f7941d','#2cc4cc'];
function closeBaseline(pts){const o=[[0,0]];let prev=0;pts.forEach(([x,h])=>{if(x-prev>1){o.push([prev+.15,0],[x-.15,0]);}o.push([x,h]);prev=x;});o.push([Math.min(prev+.15,100),0],[100,0]);return o;}
function drawLocus(L){
 trackNames.forEach((name,i)=>{
  const base=L.base0+L.step*i,h=26.5;
  const g=addGrid({left:L.x0,width:L.x1-L.x0,top:base-h,height:h},
   {type:'value',min:0,max:100,z:5,axisLine:{show:true,onZero:true,lineStyle:{color:INK,width:2}},axisTick:{show:false},axisLabel:{show:false}},
   {type:'value',min:0,max:1,z:5,axisLine:{show:true,lineStyle:{color:INK,width:1.5}},axisTick:{show:true,customValues:[1],length:4,lineStyle:{color:INK}},
    axisLabel:{customValues:[0,1],formatter:v=>+v===0?'0':L.maxes[i],fontSize:FS,fontFamily:F,color:'#999',margin:8}});
  series.push({type:'line',xAxisIndex:g,yAxisIndex:g,symbol:'none',silent:true,data:closeBaseline(L.signals[i]),lineStyle:{color:trackCols[i],width:.6},areaStyle:{color:trackCols[i],opacity:i===6?.9:1}});
  const box={left:L.x0,width:L.x1-L.x0,top:base+L.callDy,height:4};
  segRow(box,L.calls[i][0],trackCols[i],2.6);
  segRow(box,L.calls[i][1],trackCols[i],2.6,.3);
  t(L.labelX(i),base-L.labelDy,name,{a:'right'});
 });
}
drawLocus({x0:1270,x1:1835,base0:1263.5,step:40.45,callDy:7,labelX:()=>1227.7,labelDy:11,maxes:locusAMax,signals:a_signals,calls:a_calls});
t(1277.5,1218.6,'hg38 chr10: 73.865-950 Mb (85 kb)');
t(1241,1714,'logLR',{a:'center',r:Math.PI/2,c:'#999',s:26});
segRow({left:1270,width:565,top:1733,height:4},geneA.intron,'#2e3f9e',1.5);
segRow({left:1270,width:565,top:1733,height:4},geneA.exon,'#2e3f9e',7);
t(1255,1751,'CAMK2G',{i:1});t(1564,1751,'PLAU',{i:1});
t(1309,1775.7,'Super-enhancer',{a:'right'});t(1309,1805.5,'shARID1A \u0394H3.3',{a:'right'});
segRow({left:1270,width:565,top:1778,height:4},seA,'#111',7.5);
segRow({left:1270,width:565,top:1804,height:4},dH33A,'#a098d0',7.5);

drawLocus({x0:1274.6,x1:1835,base0:1888.5,step:40.5,callDy:6,labelX:i=>i===11?1227:1237,labelDy:10.5,maxes:locusBMax,signals:b_signals,calls:b_calls});
t(1288,1841,'hg38 chr5: 13.950-14.550 Mb (600 kb)');
t(1243,2349,'logLR',{a:'center',r:Math.PI/2,c:'#999',s:26});
segRow({left:1274.6,width:560.4,top:2358,height:4},geneB.intron,'#2e3f9e',1.5);
segRow({left:1274.6,width:560.4,top:2358,height:4},geneB.exon,'#2e3f9e',7);
t(1273,2377,'DNAH5',{i:1});t(1455,2377,'TRIO',{i:1});
t(1319.7,2402,'Super-enhancer',{a:'right'});t(1317,2431.6,'shARID1A \u0394H3.3',{a:'right'});
segRow({left:1274.6,width:560.4,top:2402,height:4},seB,'#111',7.5);
segRow({left:1274.6,width:560.4,top:2434,height:4},dH33Bdown,'#a098d0',7.5);
segRow({left:1274.6,width:560.4,top:2434,height:4},dH33Bpink,'#e8b0b4',7.5);

/* ---------- RENDER ---------- */
const chart=echarts.init(document.getElementById('c'),null,{renderer:'canvas',width:1836,height:2479});
chart.setOption({animation:false,backgroundColor:'#fff',textStyle:{fontFamily:F},tooltip:{show:false},
 grid:grids,xAxis:xAxes,yAxis:yAxes,series,visualMap:vms,graphic:{elements:gfx}});
</script></body></html>
